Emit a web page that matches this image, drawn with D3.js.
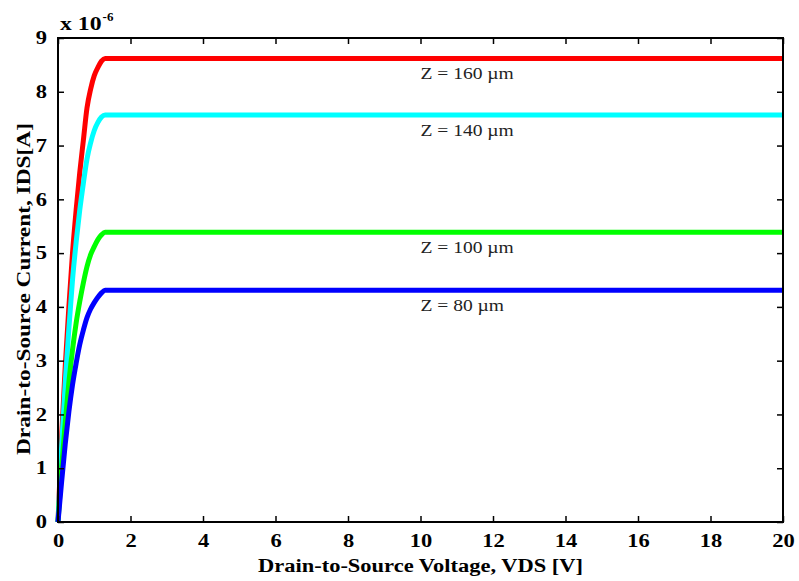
<!DOCTYPE html>
<html>
<head>
<meta charset="utf-8">
<script src="https://cdn.jsdelivr.net/npm/d3@7/dist/d3.min.js"></script>
<style>
  body { margin: 0; background: #fff; }
  svg { display: block; }
  .tick text { font-family: "Liberation Serif", "Times New Roman", serif; font-weight: bold; font-size: 18px; fill: #000; }
</style>
</head>
<body>
<div id="chart"></div>
<script>
// drain voltage samples (V)
const vds = [0, 0.1, 0.2, 0.3, 0.4, 0.5, 0.6, 0.7, 0.8, 0.9, 1.0, 1.1, 1.2, 1.3, 20];

// drain current, units of 1e-6 A
const ids160 = [0, 1.6, 2.9, 4.0, 5.0, 5.8, 6.5, 7.1, 7.7, 8.05, 8.3, 8.45, 8.57, 8.62, 8.62];
const ids140 = [0, 1.4, 2.6, 3.6, 4.5, 5.2, 5.8, 6.3, 6.75, 7.05, 7.28, 7.43, 7.53, 7.57, 7.57];
const ids100 = [0, 1.0, 1.85, 2.6, 3.2, 3.7, 4.1, 4.45, 4.75, 4.97, 5.12, 5.25, 5.34, 5.39, 5.39];
const ids80  = [0, 0.75, 1.45, 2.05, 2.55, 2.95, 3.3, 3.57, 3.8, 3.96, 4.08, 4.18, 4.26, 4.31, 4.31];

const seriesNames = ['Z = 160 \u00b5m', 'Z = 140 \u00b5m', 'Z = 100 \u00b5m', 'Z = 80 \u00b5m'];
const seriesColors = ['#ff0000', '#00ffff', '#00ff00', '#0000ff'];
const xTicks = [0, 2, 4, 6, 8, 10, 12, 14, 16, 18, 20];
const yTicks = [0, 1, 2, 3, 4, 5, 6, 7, 8, 9];
const labelVds = 10;

const W = 799, H = 581;
const margin = { top: 38, right: 16, bottom: 59, left: 58 };
const width = W - margin.left - margin.right;
const height = H - margin.top - margin.bottom;
const serif = '"Liberation Serif", "Times New Roman", serif';

// the reference text is drawn horizontally wider than the font, stretch it
function stretch(sel, k) {
  sel.each(function () {
    const len = this.getComputedTextLength();
    d3.select(this).attr('textLength', len * k).attr('lengthAdjust', 'spacingAndGlyphs');
  });
}

const svg = d3.select('#chart').append('svg')
  .attr('width', W)
  .attr('height', H);

const chart = svg.append('g')
  .attr('transform', `translate(${margin.left},${margin.top})`);

const xScale = d3.scaleLinear().domain([0, 20]).range([0, width]);
const yScale = d3.scaleLinear().domain([0, 9]).range([height, 0]);

const allSeries = [ids160, ids140, ids100, ids80];

// curves
const line = d3.line()
  .x((d, i) => xScale(vds[i]))
  .y(d => yScale(d))
  .curve(d3.curveMonotoneX);

chart.selectAll('.curve')
  .data(allSeries)
  .enter().append('path')
  .attr('class', 'curve')
  .attr('d', d => line(d))
  .attr('fill', 'none')
  .attr('stroke', (d, i) => seriesColors[i])
  .attr('stroke-width', 5)
  .attr('stroke-linejoin', 'round');

// axes, ticks pointing inward on all four sides
const tickStyle = g => {
  g.select('.domain').remove();
  g.selectAll('.tick line').attr('stroke', '#000').attr('stroke-width', 1.5);
};

const xAxis = chart.append('g')
  .attr('transform', `translate(0,${height})`)
  .call(d3.axisBottom(xScale).tickValues(xTicks).tickSize(-6).tickPadding(12).tickFormat(d3.format('d')))
  .call(tickStyle);
stretch(xAxis.selectAll('.tick text'), 1.25);

chart.append('g')
  .call(d3.axisTop(xScale).tickValues(xTicks).tickSize(-6).tickFormat(''))
  .call(tickStyle);

const yAxis = chart.append('g')
  .call(d3.axisLeft(yScale).tickValues(yTicks).tickSize(-6).tickPadding(11).tickFormat(d3.format('d')))
  .call(tickStyle);
stretch(yAxis.selectAll('.tick text'), 1.25);

chart.append('g')
  .attr('transform', `translate(${width},0)`)
  .call(d3.axisRight(yScale).tickValues(yTicks).tickSize(-6).tickFormat(''))
  .call(tickStyle);

// frame
chart.append('rect')
  .attr('width', width)
  .attr('height', height)
  .attr('fill', 'none')
  .attr('stroke', '#000')
  .attr('stroke-width', 2);

// curve labels
const zLabels = chart.selectAll('.zlabel')
  .data(allSeries)
  .enter().append('text')
  .attr('class', 'zlabel')
  .attr('x', xScale(labelVds))
  .attr('y', d => yScale(d[d.length - 1]) + 21)
  .attr('font-family', serif)
  .attr('font-size', 16)
  .attr('fill', '#222')
  .text((d, i) => seriesNames[i]);
stretch(zLabels, 1.22);

// exponent
const expo = svg.append('g').attr('font-family', serif).attr('font-weight', 'bold');
const expoBase = expo.append('text')
  .attr('x', margin.left + 2)
  .attr('y', 30)
  .attr('font-size', 19)
  .text('x 10');
stretch(expoBase, 1.25);
const baseEnd = margin.left + 2 + (+expoBase.attr('textLength'));
expo.append('text')
  .attr('x', baseEnd + 1)
  .attr('y', 21)
  .attr('font-size', 13)
  .text('-6');

// axis titles
const xTitle = svg.append('text')
  .attr('x', margin.left + width / 2)
  .attr('y', 572)
  .attr('text-anchor', 'middle')
  .attr('font-family', serif)
  .attr('font-weight', 'bold')
  .attr('font-size', 18)
  .text('Drain-to-Source Voltage, VDS [V]');
xTitle.attr('textLength', 325).attr('lengthAdjust', 'spacingAndGlyphs');

const yTitle = svg.append('text')
  .attr('transform', 'translate(30,289) rotate(-90)')
  .attr('text-anchor', 'middle')
  .attr('font-family', serif)
  .attr('font-weight', 'bold')
  .attr('font-size', 18)
  .text('Drain-to-Source Current, IDS[A]');
yTitle.attr('textLength', 332).attr('lengthAdjust', 'spacingAndGlyphs');
</script>
</body>
</html>
